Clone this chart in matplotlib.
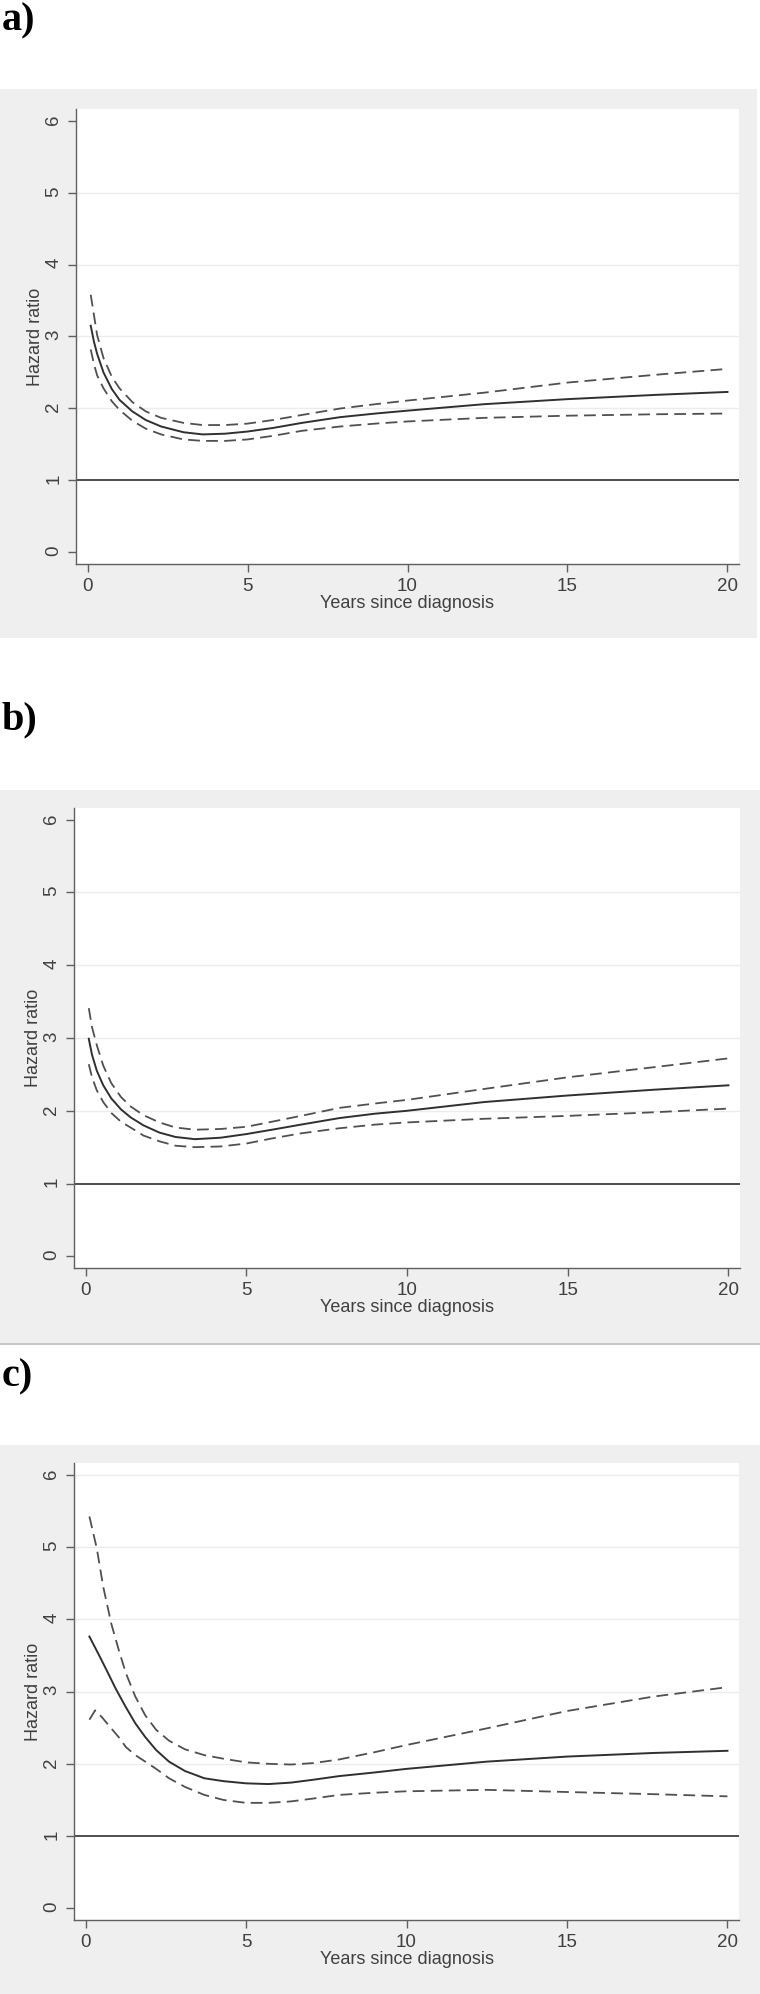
import matplotlib.pyplot as plt
from matplotlib.patches import Rectangle

plt.rcParams['font.family'] = ['Liberation Sans', 'DejaVu Sans']
plt.rcParams['lines.scale_dashes'] = False

# Data: hazard ratio (solid) and 95% CI (dashed)
# panel a
a_t = [0.1, 0.2, 0.3, 0.5, 0.76, 1.0, 1.4, 1.82, 2.3, 3.0, 3.6, 4.3, 5.0, 5.8, 6.7, 7.9, 9.0, 10, 12.4, 15, 17.8, 20]
a_hr = [3.15, 2.93, 2.76, 2.50, 2.27, 2.12, 1.96, 1.84, 1.75, 1.67, 1.64, 1.65, 1.68, 1.73, 1.80, 1.88, 1.93, 1.97, 2.06, 2.13, 2.19, 2.23]
a_hi = [3.58, 3.30, 3.02, 2.70, 2.44, 2.28, 2.09, 1.96, 1.87, 1.80, 1.77, 1.77, 1.79, 1.84, 1.91, 2.0, 2.06, 2.11, 2.22, 2.36, 2.47, 2.55]
a_lo = [2.82, 2.62, 2.46, 2.28, 2.10, 1.98, 1.83, 1.72, 1.64, 1.57, 1.55, 1.55, 1.57, 1.62, 1.69, 1.75, 1.79, 1.82, 1.87, 1.90, 1.92, 1.93]

# panel b
b_t = [0.1, 0.2, 0.35, 0.55, 0.8, 1.1, 1.4, 1.8, 2.3, 2.8, 3.4, 4.2, 5.0, 5.8, 6.7, 7.9, 9.0, 10, 12.4, 15, 17.7, 20]
b_hr = [2.99, 2.77, 2.55, 2.35, 2.17, 2.02, 1.91, 1.80, 1.70, 1.64, 1.61, 1.63, 1.68, 1.74, 1.81, 1.90, 1.96, 2.0, 2.12, 2.21, 2.29, 2.35]
b_hi = [3.41, 3.15, 2.90, 2.62, 2.38, 2.19, 2.06, 1.94, 1.84, 1.77, 1.74, 1.75, 1.78, 1.85, 1.93, 2.04, 2.10, 2.15, 2.30, 2.46, 2.60, 2.72]
b_lo = [2.64, 2.46, 2.28, 2.12, 1.97, 1.85, 1.77, 1.66, 1.58, 1.52, 1.50, 1.51, 1.55, 1.62, 1.69, 1.76, 1.81, 1.84, 1.89, 1.93, 1.98, 2.03]

# panel c
c_t_hr = [0.12, 0.4, 0.65, 0.95, 1.26, 1.55, 1.86, 2.2, 2.6, 3.1, 3.7, 4.3, 5.0, 5.7, 6.4, 7.1, 7.9, 9.0, 10, 12.5, 15, 17.7, 20]
c_hr = [3.76, 3.52, 3.30, 3.03, 2.78, 2.56, 2.37, 2.19, 2.03, 1.90, 1.80, 1.76, 1.73, 1.72, 1.74, 1.78, 1.83, 1.88, 1.93, 2.03, 2.10, 2.15, 2.18]
c_t_hi = [0.12, 0.35, 0.55, 0.8, 1.05, 1.26, 1.55, 1.86, 2.2, 2.6, 3.1, 3.7, 4.3, 5.0, 5.7, 6.4, 7.1, 7.9, 9.0, 10, 12.5, 15, 17.7, 20]
c_hi = [5.42, 4.98, 4.45, 3.94, 3.55, 3.25, 2.93, 2.67, 2.47, 2.32, 2.20, 2.12, 2.07, 2.02, 2.00, 1.99, 2.01, 2.06, 2.16, 2.26, 2.49, 2.73, 2.93, 3.06]
c_t_lo = [0.12, 0.3, 0.5, 0.8, 1.05, 1.26, 1.55, 1.86, 2.2, 2.6, 3.1, 3.7, 4.3, 5.0, 5.7, 6.4, 7.1, 7.9, 9.0, 10, 12.5, 15, 17.7, 20]
c_lo = [2.61, 2.74, 2.65, 2.49, 2.36, 2.23, 2.12, 2.03, 1.93, 1.80, 1.68, 1.57, 1.50, 1.46, 1.46, 1.48, 1.52, 1.57, 1.60, 1.62, 1.64, 1.61, 1.58, 1.55]

x_ticks = [0, 5, 10, 15, 20]
y_ticks = [0, 1, 2, 3, 4, 5, 6]
panel_labels = ['a)', 'b)', 'c)']

W, H = 760, 1994
fig = plt.figure(figsize=(W / 100, H / 100), dpi=100)
fig.patch.set_facecolor('white')


def box(x0, y0, x1, y1):
    return [x0 / W, 1 - y1 / H, (x1 - x0) / W, (y1 - y0) / H]


bg = '#efefef'
# gray graph regions (x0, y0, x1, y1 in pixels)
regions = [(0, 89, 757, 638), (0, 790, 760, 1343), (0, 1445, 760, 1994)]
plots = [(76, 109, 739, 564), (74, 808, 740, 1268), (74, 1463, 739, 1920)]
label_y = [30, 729, 1386]
grids = [[2, 3, 4, 5], [2, 3, 4, 5], [2, 3, 4, 5, 6]]

series = [
    (a_t, a_hr, a_t, a_hi, a_t, a_lo),
    (b_t, b_hr, b_t, b_hi, b_t, b_lo),
    (c_t_hr, c_hr, c_t_hi, c_hi, c_t_lo, c_lo),
]

for i in range(3):
    x0, y0, x1, y1 = regions[i]
    fig.patches.append(Rectangle((x0 / W, 1 - y1 / H), (x1 - x0) / W, (y1 - y0) / H,
                                 transform=fig.transFigure, facecolor=bg,
                                 edgecolor='none', zorder=-5))
    fig.text(2 / W, 1 - label_y[i] / H, panel_labels[i], family='Liberation Serif',
             fontweight='bold', fontsize=29, ha='left', va='baseline')

    ax = fig.add_axes(box(*plots[i]))
    ax.set_facecolor('white')
    th, hr, tu, hi, tl, lo = series[i]
    for g in grids[i]:
        ax.axhline(g, color='#ececec', lw=1.0, zorder=1)
    ax.axhline(1, color='#404040', lw=1.3, zorder=2)
    ax.plot(tu, hi, color='#505050', lw=1.3, dashes=(8.5, 4.5), zorder=3)
    ax.plot(tl, lo, color='#505050', lw=1.3, dashes=(8.5, 4.5), zorder=3)
    ax.plot(th, hr, color='#303030', lw=1.4, zorder=4)

    ax.set_xlim(-0.36, 20.36)
    ax.set_ylim(-0.16, 6.16)
    ax.set_xticks(x_ticks)
    ax.set_yticks(y_ticks)
    for s in ['top', 'right']:
        ax.spines[s].set_visible(False)
    for s in ['left', 'bottom']:
        ax.spines[s].set_color('#606060')
        ax.spines[s].set_linewidth(1.0)
    ax.tick_params(length=5.8, width=1.0, color='#606060', labelsize=13.5,
                   labelcolor='#404040')
    ax.tick_params(axis='x', pad=4)
    ax.tick_params(axis='y', labelrotation=90, pad=4)
    ax.set_xlabel('Years since diagnosis', fontsize=13, color='#404040', labelpad=0)
    ax.set_ylabel('Hazard ratio', fontsize=13, color='#404040', labelpad=1)

# thin border under panel b
fig.patches.append(Rectangle((0, 1 - 1345 / H), 1, 2.5 / H, transform=fig.transFigure,
                             facecolor='#c8c8c8', edgecolor='none', zorder=-5))

fig.savefig('out.png', dpi=100)
